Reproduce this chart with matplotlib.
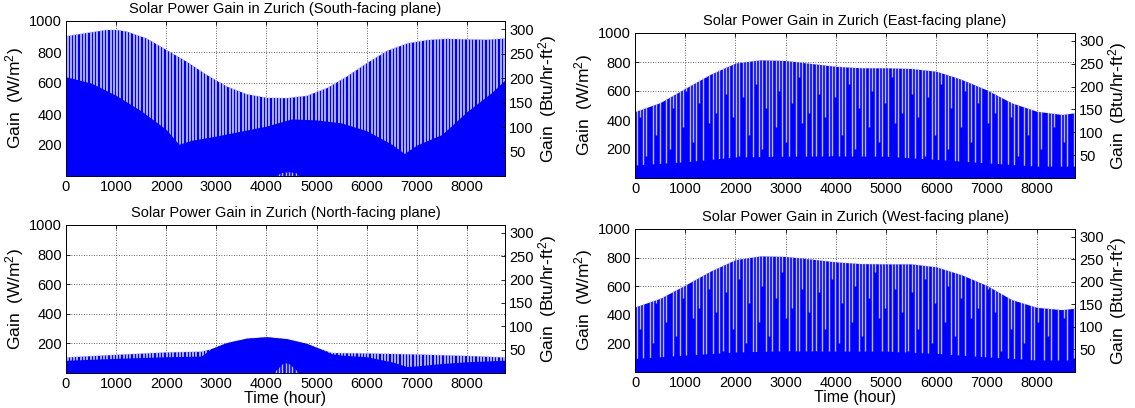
import numpy as np
import matplotlib
matplotlib.use("Agg")
import matplotlib.pyplot as plt

plt.rcParams['font.family'] = ['Liberation Sans', 'DejaVu Sans']
plt.rcParams['mathtext.fontset'] = 'custom'
plt.rcParams['mathtext.rm'] = 'Liberation Sans'
plt.rcParams['mathtext.it'] = 'Liberation Sans:italic'

W_TO_BTU = 0.3170          # 1 W/m^2 in Btu/hr-ft^2
YEAR_HOURS = 8760

# ---- South-facing plane ----
south_hours = [0, 400, 800, 1000, 1200, 1600, 2000, 2400, 2800, 3200, 3600,
               4000, 4400, 4800, 5200, 5600, 6000, 6400, 6800, 7200, 7600,
               8000, 8400, 8760]
south_peak = [905, 925, 945, 945, 935, 890, 815, 740, 655, 580, 530,
              507, 505, 520, 570, 645, 732, 810, 858, 880, 888,
              884, 882, 890]
south_band_hours = [0, 500, 1000, 1500, 2000, 2250, 2500, 3000, 3500, 4000,
                    4500, 5000, 5500, 6000, 6500, 6750, 7000, 7500, 8000,
                    8500, 8760]
south_band = [640, 600, 520, 420, 300, 205, 230, 258, 290, 322,
              368, 362, 342, 292, 205, 145, 200, 268, 415,
              540, 620]
south_notch_hours = [4200, 4300, 4450, 4600, 4650]
south_notch = [0, 18, 25, 18, 0]

# ---- East-facing plane ----
east_hours = [0, 500, 1000, 1500, 2000, 2500, 3000, 3500, 4000, 4500, 5000,
              5500, 6000, 6500, 7000, 7500, 8000, 8500, 8760]
east_peak = [458, 520, 618, 715, 793, 815, 810, 790, 770, 760, 760,
             755, 736, 680, 608, 518, 460, 438, 450]
east_band_hours = [0, 1000, 2000, 3000, 4000, 5000, 6000, 7000, 8000, 8760]
east_band = [90, 112, 145, 150, 152, 150, 128, 104, 82, 82]

# ---- North-facing plane ----
north_hours = [0, 1000, 2000, 2700, 2900, 3200, 3600, 4000, 4400, 4800,
               5100, 5300, 6000, 7000, 8000, 8760]
north_peak = [108, 126, 142, 147, 165, 205, 235, 245, 232, 200,
              160, 138, 135, 128, 118, 108]
north_band_hours = [0, 1000, 2000, 2700, 2900, 3200, 3600, 4000, 4400, 4800,
                    5100, 5300, 5500, 6000, 6500, 6800, 7000, 7500, 8000, 8760]
north_band = [86, 99, 110, 114, 165, 205, 235, 245, 232, 200,
              160, 130, 121, 110, 76, 44, 48, 64, 76, 86]
north_notch_hours = [4150, 4250, 4350, 4450, 4550, 4650]
north_notch = [0, 32, 68, 62, 35, 0]

# ---- West-facing plane ----
west_hours = [0, 500, 1000, 1500, 2000, 2500, 3000, 3500, 4000, 4500, 5000,
              5500, 6000, 6500, 7000, 7500, 8000, 8500, 8760]
west_peak = [455, 515, 608, 705, 786, 812, 808, 790, 770, 758, 756,
             756, 735, 680, 606, 506, 452, 436, 446]
west_band_hours = [0, 1000, 2000, 3000, 4000, 5000, 6000, 7000, 8000, 8760]
west_band = [95, 118, 140, 148, 146, 146, 130, 106, 84, 84]

x_ticks = list(range(0, 9000, 1000))
w_ticks = [200, 400, 600, 800, 1000]
btu_ticks = [50, 100, 150, 200, 250, 300]

BLUE = '#0000ff'
STRIPE = '#bcbcff'
# lower ends of the night stripes, cycled along the year
south_floors = [0]
north_floors = [0]
side_floors = [0, 420, 0, 150, 560, 0, 300, 0, 650, 0, 200, 480, 0, 0, 350,
               600, 0, 250, 0, 520, 0, 700, 380, 0, 450, 100, 0, 580]


def draw_panel(ax, title, hours, peak, band_hours, band, floors,
               notch_hours=None, notch=None, xlabel=None, stripe_lw=1.3):
    env = ax.fill_between(hours, 0, peak, color=BLUE, lw=0, zorder=2)
    xs = np.arange(30, YEAR_HOURS, 66)
    lows = [floors[i % len(floors)] for i in range(len(xs))]
    stripes = ax.vlines(xs, lows, 1000, colors=STRIPE, lw=stripe_lw, zorder=3)
    stripes.set_clip_path(env.get_paths()[0], ax.transData)
    ax.fill_between(band_hours, 0, band, color=BLUE, lw=0, zorder=4)
    if notch_hours is not None:
        shape = ax.fill_between(notch_hours, 0, notch, color='none', lw=0)
        ns = ax.vlines(xs, 0, 1000, colors=STRIPE, lw=1.0, zorder=5)
        ns.set_clip_path(shape.get_paths()[0], ax.transData)

    ax.set_xlim(0, YEAR_HOURS)
    ax.set_ylim(0, 1000)
    ax.set_xticks(x_ticks)
    ax.set_yticks(w_ticks)
    ax.grid(True, linestyle=(0, (1, 2)), color='#333333', lw=0.6)
    ax.set_axisbelow(True)
    ax.tick_params(direction='in', length=3, width=0.6, top=True,
                   labelsize=10.5, pad=3)
    ax.set_ylabel('Gain  (W/m$^2$)', fontsize=12.5, labelpad=2)
    ax.set_title(title, fontsize=10.5, pad=6)
    if xlabel:
        ax.set_xlabel(xlabel, fontsize=11.5, labelpad=0)
    for s in ax.spines.values():
        s.set_linewidth(0.6)

    ax2 = ax.twinx()
    ax2.set_ylim(0, 1000 * W_TO_BTU)
    ax2.set_yticks(btu_ticks)
    ax2.tick_params(direction='in', length=3, width=0.6, labelsize=10.5, pad=3)
    ax2.set_ylabel('Gain  (Btu/hr-ft$^2$)', fontsize=12.5, labelpad=2)
    for s in ax2.spines.values():
        s.set_linewidth(0.6)


fig = plt.figure(figsize=(11.35, 4.08), dpi=100)
ax_s = fig.add_axes([66 / 1135, 1 - 176 / 408, 439 / 1135, 155 / 408])
ax_e = fig.add_axes([635 / 1135, 1 - 178 / 408, 440 / 1135, 145 / 408])
ax_n = fig.add_axes([66 / 1135, 1 - 373 / 408, 439 / 1135, 148 / 408])
ax_w = fig.add_axes([635 / 1135, 1 - 372 / 408, 440 / 1135, 143 / 408])

draw_panel(ax_s, 'Solar Power Gain in Zurich (South-facing plane)',
           south_hours, south_peak, south_band_hours, south_band, south_floors,
           south_notch_hours, south_notch)
draw_panel(ax_e, 'Solar Power Gain in Zurich (East-facing plane)',
           east_hours, east_peak, east_band_hours, east_band, side_floors,
           stripe_lw=1.0)
draw_panel(ax_n, 'Solar Power Gain in Zurich (North-facing plane)',
           north_hours, north_peak, north_band_hours, north_band, north_floors,
           north_notch_hours, north_notch, xlabel='Time (hour)')
draw_panel(ax_w, 'Solar Power Gain in Zurich (West-facing plane)',
           west_hours, west_peak, west_band_hours, west_band,
           side_floors[5:] + side_floors[:5], xlabel='Time (hour)',
           stripe_lw=1.0)

fig.savefig('out.png', dpi=100)
